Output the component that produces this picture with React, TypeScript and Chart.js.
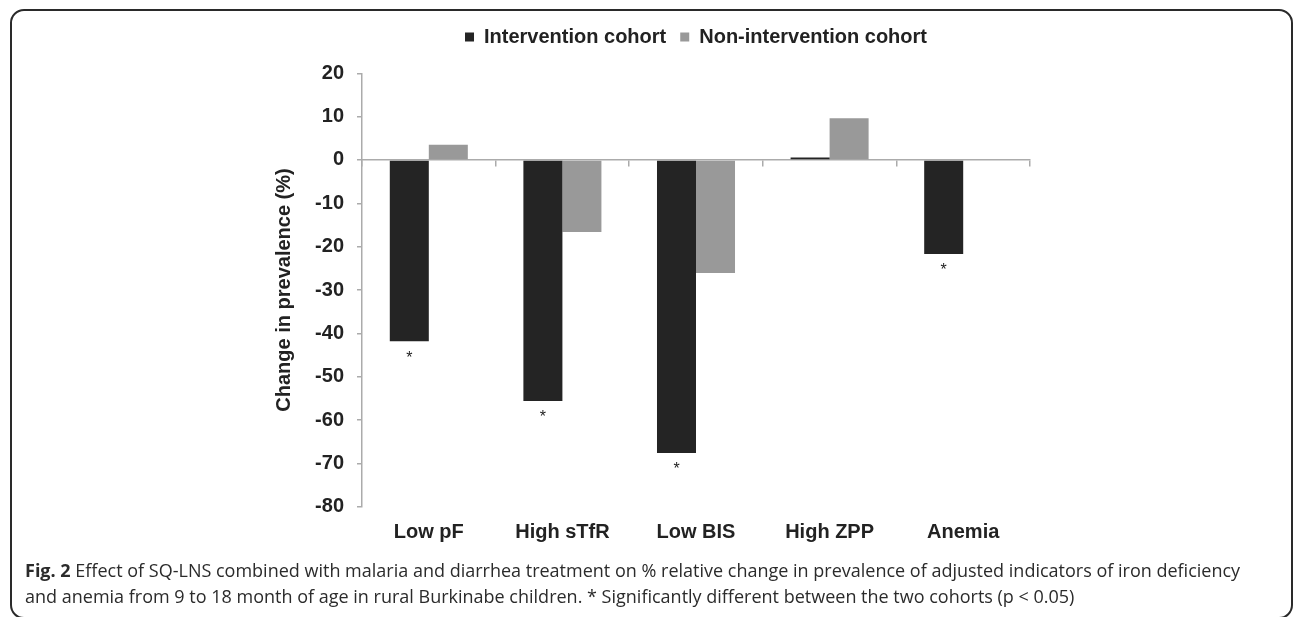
import React, { useEffect, useRef } from "react";
import { Chart, registerables } from "chart.js";

Chart.register(...registerables);

const categories = ["Low pF", "High sTfR", "Low BIS", "High ZPP", "Anemia"];
const interventionValues = [-41.8, -55.6, -67.6, 0.6, -21.7];
const nonInterventionValues = [3.5, -16.6, -26.1, 9.6, 0];
const significant = [true, true, true, false, true];
const seriesNames = ["Intervention cohort", "Non-intervention cohort"];
const yTickMin = -80;
const yTickMax = 20;
const yTickStep = 10;

const AXIS_GRAY = "#ababab";
const TEXT = "#222222";
const FONT = "'Liberation Sans', Arial, Helvetica, sans-serif";

const asteriskPlugin = {
  id: "asterisks",
  afterDatasetsDraw(chart: any) {
    const meta = chart.getDatasetMeta(0);
    const ctx = chart.ctx;
    ctx.save();
    ctx.fillStyle = TEXT;
    ctx.font = `16px ${FONT}`;
    ctx.textAlign = "center";
    ctx.textBaseline = "middle";
    meta.data.forEach((bar: any, i: number) => {
      if (significant[i]) {
        ctx.fillText("*", bar.x, bar.y + 17);
      }
    });
    ctx.restore();
  },
};

const legendMarginPlugin = {
  id: "legendMargin",
  afterInit(chart: any) {
    const legend = chart.legend;
    if (!legend) return;
    const origFit = legend.fit;
    legend.fit = function () {
      origFit.call(legend);
      legend.height += 16.3;
    };
  },
};

function ChartBox() {
  const ref = useRef<HTMLCanvasElement | null>(null);
  useEffect(() => {
    if (!ref.current) return;
    const chart = new Chart(ref.current, {
      type: "bar",
      data: {
        labels: categories,
        datasets: [
          {
            label: seriesNames[0],
            data: interventionValues,
            backgroundColor: "#242424",
            borderWidth: 0,
            categoryPercentage: 0.584,
            barPercentage: 1.0,
          },
          {
            label: seriesNames[1],
            data: nonInterventionValues,
            backgroundColor: "#999999",
            borderWidth: 0,
            categoryPercentage: 0.584,
            barPercentage: 1.0,
          },
        ],
      },
      options: {
        animation: false,
        responsive: true,
        maintainAspectRatio: false,
        layout: { padding: { top: 3, left: 262.1, right: 260, bottom: 0.7 } },
        plugins: {
          tooltip: { enabled: false },
          legend: {
            display: true,
            position: "top",
            fullSize: false,
            labels: {
              boxWidth: 9,
              boxHeight: 9,
              padding: 14,
              color: TEXT,
              font: { family: FONT, size: 20, weight: "bold" },
            },
          },
        },
        scales: {
          x: {
            type: "category",
            position: "bottom",
            grid: { display: false, drawTicks: false, tickLength: 0 },
            border: { display: false },
            ticks: {
              color: TEXT,
              padding: 13.8,
              font: { family: FONT, size: 20, weight: "bold" },
              maxRotation: 0,
            },
          },
          x2: {
            type: "category",
            position: { y: 0 },
            offset: true,
            labels: categories,
            grid: {
              display: true,
              offset: true,
              drawOnChartArea: false,
              drawTicks: true,
              tickLength: 6,
              color: AXIS_GRAY,
              lineWidth: 1.5,
            },
            border: { display: true, color: AXIS_GRAY, width: 1.5 },
            ticks: { display: false },
          },
          y: {
            min: yTickMin,
            max: yTickMax,
            ticks: {
              stepSize: yTickStep,
              color: TEXT,
              padding: 13,
              font: { family: FONT, size: 20, weight: "bold" },
            },
            grid: {
              display: true,
              drawOnChartArea: false,
              drawTicks: true,
              tickLength: 5,
              color: AXIS_GRAY,
              lineWidth: 1.5,
            },
            border: { display: true, color: AXIS_GRAY, width: 1.5 },
            title: {
              display: true,
              text: "Change in prevalence (%)",
              color: TEXT,
              padding: { top: 0, bottom: 6 },
              font: { family: FONT, size: 20, weight: "bold" },
            },
          },
        },
      },
      plugins: [asteriskPlugin, legendMarginPlugin],
    });
    return () => chart.destroy();
  }, []);
  return <canvas ref={ref} />;
}

export default function App() {
  return (
    <div
      style={{
        position: "absolute",
        left: 0,
        top: 0,
        width: 1296,
        height: 617,
        overflow: "hidden",
        background: "#ffffff",
      }}
    >
      <div
        style={{
          position: "absolute",
          left: 10,
          top: 9,
          width: 1279,
          height: 606,
          border: "2px solid #2a2a2a",
          borderRadius: 14,
        }}
      />
      <div
        style={{
          position: "absolute",
          left: 10,
          top: 10,
          width: 1280,
          height: 549,
        }}
      >
        <ChartBox />
      </div>
      <div
        style={{
          position: "absolute",
          left: 25,
          top: 557,
          fontFamily: "'Open Sans', sans-serif",
          fontSize: 18,
          lineHeight: "26px",
          color: "#2b2b2b",
          whiteSpace: "nowrap",
        }}
      >
        <div>
          <b>Fig. 2</b> Effect of SQ-LNS combined with malaria and diarrhea treatment on % relative change in prevalence of adjusted indicators of iron deficiency
        </div>
        <div>
          and anemia from 9 to 18 month of age in rural Burkinabe children. * Significantly different between the two cohorts (p &lt; 0.05)
        </div>
      </div>
    </div>
  );
}
